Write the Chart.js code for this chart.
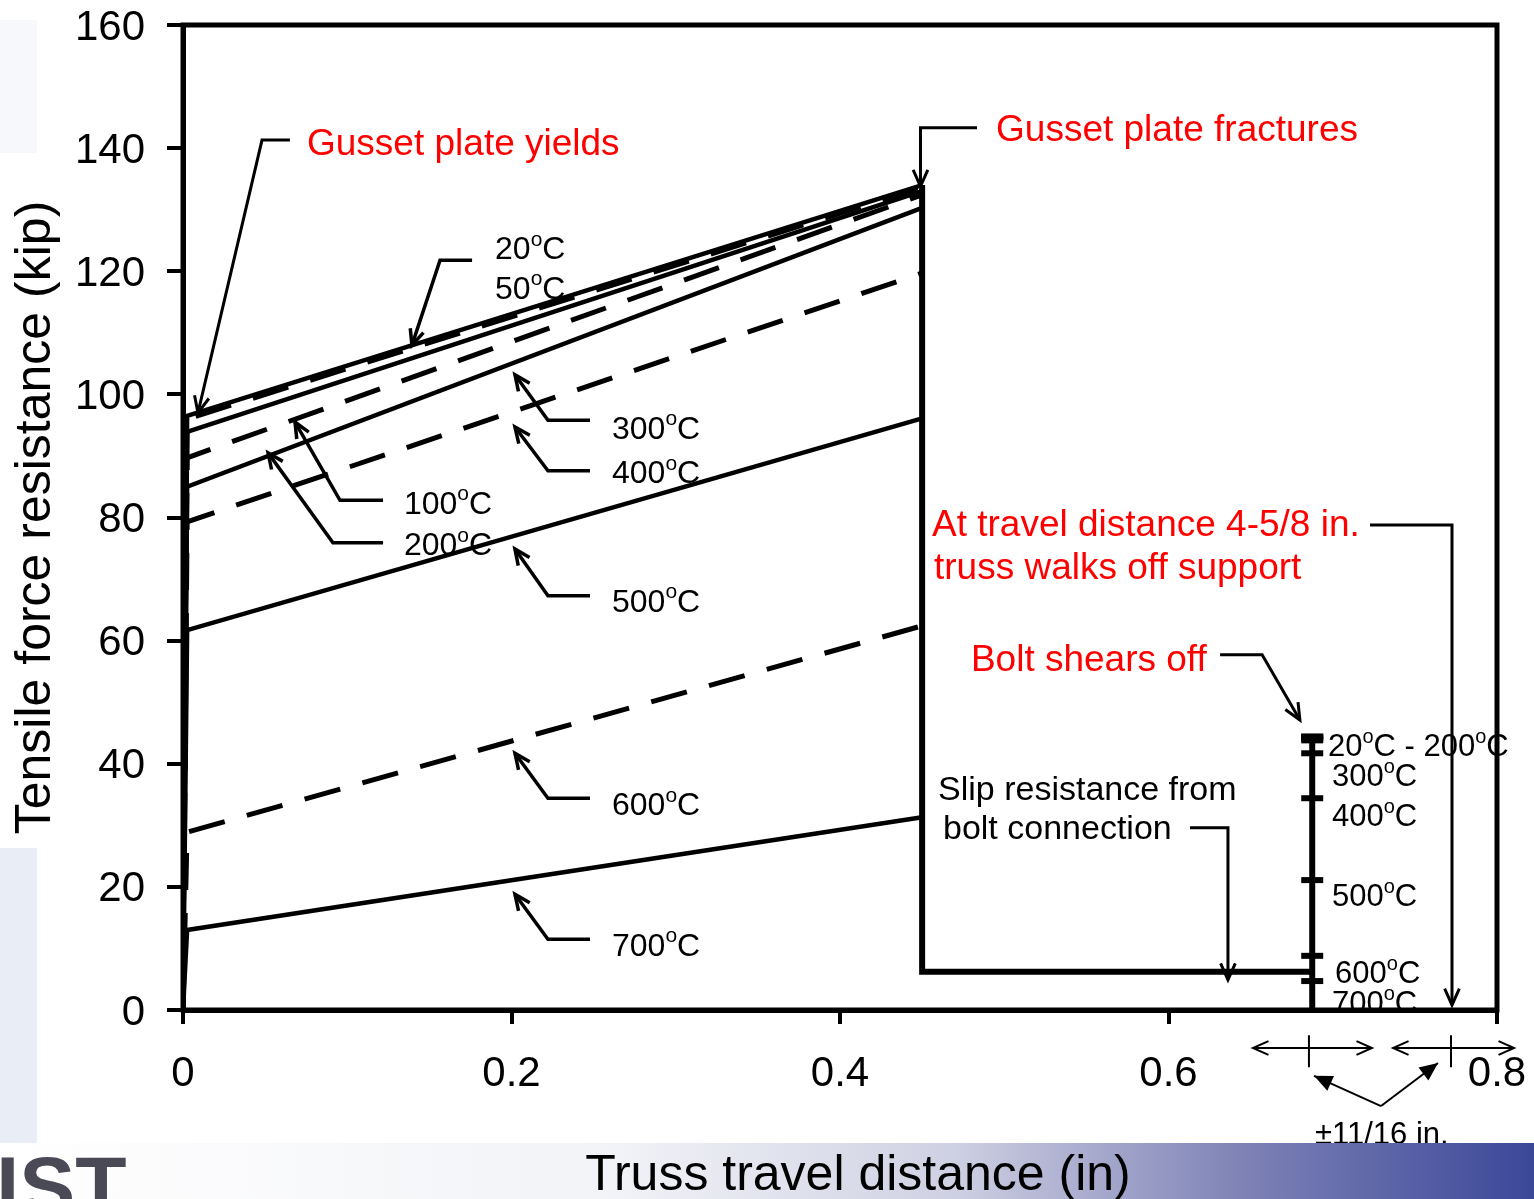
<!DOCTYPE html>
<html>
<head>
<meta charset="utf-8">
<script src="https://cdn.jsdelivr.net/npm/chart.js@4.4.0/dist/chart.umd.min.js"></script>
<style>
  html, body { margin: 0; padding: 0; background: #fff; }
  #wrap { width: 1534px; height: 1199px; }
</style>
</head>
<body>
<div id="wrap"><canvas id="chart" width="1534" height="1199"></canvas></div>
<script>
// tensile force resistance (kip) vs truss travel distance (in), per temperature
const temps = ["20", "50", "100", "200", "300", "400", "500", "600", "700"];
const yieldTravel = 0.0025;
const fractureTravel = 0.45;
const yieldForce = [96.5, 96.0, 93.9, 89.7, 85.0, 79.3, 61.7, 28.9, 13.0];
const fractureForce = [134.0, 133.6, 133.0, 132.4, 130.3, 119.7, 96.1, 62.4, 31.3];
const slipForce = 6.2;
const boltTravel = 0.6875; // 11/16 in
const boltShear = [44.4, 44.4, 44.1, 43.8, 41.7, 34.4, 21.1, 8.8, 4.7];
const xTicks = [0, 0.2, 0.4, 0.6, 0.8];
const yTicks = [0, 20, 40, 60, 80, 100, 120, 140, 160];

// annotation text and leader arrows, in chart units
const curveLabels = [
  ["20ºC", 0.19, 123.8], ["50ºC", 0.19, 117.4],
  ["100ºC", 0.1345, 82.5], ["200ºC", 0.1345, 75.7],
  ["300ºC", 0.2612, 94.7], ["400ºC", 0.2612, 87.4],
  ["500ºC", 0.2612, 66.6], ["600ºC", 0.2612, 33.5], ["700ºC", 0.2612, 10.7]
];
const curveArrows = [
  [[0.176, 121.8], [0.1565, 121.8], [0.1394, 108.0]],
  [[0.1218, 82.8], [0.0956, 82.8], [0.0682, 95.5]],
  [[0.1218, 75.9], [0.0913, 75.9], [0.0518, 90.5]],
  [[0.2478, 95.8], [0.2222, 95.8], [0.2021, 103.2]],
  [[0.2478, 87.6], [0.2222, 87.6], [0.2021, 94.7]],
  [[0.2478, 67.3], [0.2222, 67.3], [0.2021, 74.9]],
  [[0.2478, 34.4], [0.2222, 34.4], [0.2021, 41.7]],
  [[0.2478, 11.5], [0.2222, 11.5], [0.2021, 18.8]]
];
const redNotes = [
  ["Gusset plate yields", 0.0755, 141.0],
  ["Gusset plate fractures", 0.495, 143.3],
  ["At travel distance 4-5/8 in.", 0.456, 79.1],
  ["truss walks off support", 0.4572, 72.1],
  ["Bolt shears off", 0.4797, 57.3]
];
const blackNotes = [
  ["Slip resistance from", 0.4597, 36.1],
  ["bolt connection", 0.4627, 29.7]
];
const noteArrows = [
  [[0.0651, 141.3], [0.0481, 141.3], [0.0091, 97.0]],
  [[0.4834, 143.3], [0.449, 143.3], [0.449, 133.8]],
  [[0.7227, 78.8], [0.7726, 78.8], [0.7726, 0.8]],
  [[0.6314, 57.7], [0.657, 57.7], [0.680, 47.1]],
  [[0.6131, 29.6], [0.6362, 29.6], [0.6362, 4.9]]
];
const boltLabels = [
  ["20ºC - 200ºC", 0.6971, 43.0], ["300ºC", 0.6995, 38.2], ["400ºC", 0.6995, 31.7],
  ["500ºC", 0.6995, 18.7], ["600ºC", 0.7014, 6.2], ["700ºC", 0.6995, 1.3]
];
const tolSpans = [[0.6514, 0.7239, 0.6855], [0.7367, 0.8104, 0.772]];
const tolArrows = [[[0.7294, -15.6], [0.6886, -10.7]], [[0.7294, -15.6], [0.7641, -8.6]]];

const FONT = "'Liberation Sans', Arial, sans-serif";

function richText(ctx, str, x, y, size, color) {
  // º is drawn as a raised small o
  ctx.fillStyle = color;
  ctx.textAlign = "left";
  ctx.textBaseline = "alphabetic";
  const base = y + 0.36 * size;
  let cx = x;
  str.split("º").forEach((part, i) => {
    if (i > 0) {
      ctx.font = Math.round(size * 0.65) + "px " + FONT;
      ctx.fillText("o", cx, base - 0.42 * size);
      cx += ctx.measureText("o").width;
    }
    ctx.font = size + "px " + FONT;
    ctx.fillText(part, cx, base);
    cx += ctx.measureText(part).width;
  });
}

function head(ctx, x1, y1, x2, y2, len, filled) {
  const a = Math.atan2(y2 - y1, x2 - x1), s = 0.42;
  ctx.beginPath();
  ctx.moveTo(x2 - len * Math.cos(a - s), y2 - len * Math.sin(a - s));
  ctx.lineTo(x2, y2);
  ctx.lineTo(x2 - len * Math.cos(a + s), y2 - len * Math.sin(a + s));
  if (filled) { ctx.closePath(); ctx.fill(); } else ctx.stroke();
}

function arrow(ctx, pts, w, len, filled) {
  ctx.strokeStyle = "#000";
  ctx.fillStyle = "#000";
  ctx.lineWidth = w;
  ctx.lineJoin = "miter";
  ctx.beginPath();
  pts.forEach(([x, y], i) => (i ? ctx.lineTo(x, y) : ctx.moveTo(x, y)));
  ctx.stroke();
  const n = pts.length;
  head(ctx, pts[n - 2][0], pts[n - 2][1], pts[n - 1][0], pts[n - 1][1], len, filled);
}

const notes = {
  id: "notes",
  beforeDraw(chart) {
    const ctx = chart.ctx;
    const px = v => chart.scales.x.getPixelForValue(v);
    const py = v => chart.scales.y.getPixelForValue(v);
    const W = chart.width, H = chart.height;
    ctx.save();
    // slide decoration
    ctx.fillStyle = "#f7f8fc";
    ctx.fillRect(0, 20, 37, 133);
    ctx.fillStyle = "#e8edf6";
    ctx.fillRect(0, 848, 37, 295);

    // bolt temperature labels (under the axis line)
    boltLabels.forEach(([t, x, y]) => richText(ctx, t, px(x), py(y), 31, "#000"));

    // ±11/16 in. tolerance marks under the axis
    tolSpans.forEach(([a, b, m]) => {
      const y = py(-6.17);
      ctx.lineWidth = 2;
      ctx.strokeStyle = "#000";
      ctx.beginPath();
      ctx.moveTo(px(a), y); ctx.lineTo(px(b), y);
      ctx.moveTo(px(m), py(-4.1)); ctx.lineTo(px(m), py(-9.3));
      ctx.stroke();
      head(ctx, px(b) - 5, y, px(b), y, 17, false);
      head(ctx, px(a) + 5, y, px(a), y, 17, false);
    });
    tolArrows.forEach(seg => arrow(ctx, seg.map(([x, y]) => [px(x), py(y)]), 2, 20, true));
    richText(ctx, "±11/16 in.", px(0.7318) - 70, py(-20.0), 31, "#000");

    // bottom band
    const g = ctx.createLinearGradient(0, 0, W, 0);
    g.addColorStop(0, "#ffffff");
    g.addColorStop(0.4, "#f2f3f7");
    g.addColorStop(0.62, "#cfd1e3");
    g.addColorStop(0.81, "#7e82b6");
    g.addColorStop(1, "#3b4899");
    ctx.fillStyle = g;
    ctx.fillRect(0, 1143, W, H - 1143);
    ctx.fillStyle = "#4a4a57";
    ctx.font = "bold 84px " + FONT;
    ctx.textAlign = "left";
    ctx.textBaseline = "alphabetic";
    ctx.fillText("IST", -4, 1215);
    ctx.restore();
  },
  beforeDatasetsDraw(chart) {
    const { ctx, chartArea: a } = chart;
    ctx.save();
    ctx.strokeStyle = "#000";
    ctx.lineWidth = 5;
    ctx.strokeRect(a.left, a.top, a.right - a.left, a.bottom - a.top);
    ctx.restore();
  },
  afterDraw(chart) {
    const ctx = chart.ctx;
    const px = v => chart.scales.x.getPixelForValue(v);
    const py = v => chart.scales.y.getPixelForValue(v);
    ctx.save();
    curveArrows.forEach(p => arrow(ctx, p.map(([x, y]) => [px(x), py(y)]), 3.5, 17, false));
    noteArrows.forEach(p => arrow(ctx, p.map(([x, y]) => [px(x), py(y)]), 3, 18, false));
    curveLabels.forEach(([t, x, y]) => richText(ctx, t, px(x), py(y), 32, "#000"));
    redNotes.forEach(([t, x, y]) => richText(ctx, t, px(x), py(y), 37, "#ff0000"));
    blackNotes.forEach(([t, x, y]) => richText(ctx, t, px(x), py(y), 34, "#000"));

    // x axis title sits on the band
    const a = chart.chartArea;
    ctx.fillStyle = "#000";
    ctx.font = "50px " + FONT;
    ctx.textAlign = "center";
    ctx.textBaseline = "alphabetic";
    ctx.fillText("Truss travel distance (in)", (a.left + a.right) / 2 + 18, 1190);
    ctx.restore();
  }
};

const datasets = temps.map((t, i) => ({
  label: t + "°C",
  data: [{ x: 0, y: 0 }, { x: yieldTravel, y: yieldForce[i] }, { x: fractureTravel, y: fractureForce[i] }],
  borderColor: "#000",
  borderWidth: i % 2 ? 5 : 4.5,
  borderDash: i % 2 ? [37, 23] : [],
  pointRadius: 0,
  tension: 0,
  fill: false
}));

datasets.push({
  label: "fracture and slip",
  data: [{ x: fractureTravel, y: fractureForce[0] }, { x: fractureTravel, y: slipForce }, { x: boltTravel, y: slipForce }],
  borderColor: "#000",
  borderWidth: 6,
  pointRadius: 0,
  tension: 0
});
datasets.push({
  label: "bolt",
  data: [{ x: boltTravel, y: 0 }, { x: boltTravel, y: boltShear[0] }],
  borderColor: "#000",
  borderWidth: 6,
  pointRadius: 0
});
datasets.push({
  label: "bolt shear",
  data: boltShear.map(v => ({ x: boltTravel, y: v })),
  showLine: false,
  pointStyle: "line",
  pointRadius: 11,
  pointBorderWidth: 6,
  pointBorderColor: "#000",
  borderColor: "#000"
});

new Chart(document.getElementById("chart"), {
  type: "line",
  data: { datasets: datasets },
  plugins: [notes],
  options: {
    responsive: false,
    animation: false,
    devicePixelRatio: 1,
    layout: { padding: { top: 25, right: 37, bottom: 0, left: 0 } },
    plugins: { legend: { display: false }, tooltip: { enabled: false } },
    scales: {
      x: {
        type: "linear",
        min: 0,
        max: 0.8,
        afterBuildTicks: s => { s.ticks = xTicks.map(v => ({ value: v })); },
        afterFit: s => { s.height = 189; s.paddingLeft = 0; s.paddingRight = 0; },
        border: { display: true, color: "#000", width: 5 },
        grid: { drawOnChartArea: false, drawTicks: true, tickLength: 14, color: "#000", lineWidth: 4 },
        ticks: { color: "#000", padding: 25, font: { family: FONT, size: 42 }, maxRotation: 0, callback: v => String(v) },
        title: { display: false }
      },
      y: {
        type: "linear",
        min: 0,
        max: 160,
        afterBuildTicks: s => { s.ticks = yTicks.map(v => ({ value: v })); },
        afterFit: s => { s.width = 183; s.paddingTop = 0; s.paddingBottom = 0; },
        border: { display: true, color: "#000", width: 5 },
        grid: { drawOnChartArea: false, drawTicks: true, tickLength: 16, color: "#000", lineWidth: 4 },
        ticks: { color: "#000", padding: 22, labelOffset: 3, font: { family: FONT, size: 42 }, callback: v => String(v) },
        title: {
          display: true,
          text: "Tensile force resistance (kip)",
          color: "#000",
          font: { family: FONT, size: 50 },
          padding: { top: 6, bottom: 0 }
        }
      }
    }
  }
});
</script>
</body>
</html>
